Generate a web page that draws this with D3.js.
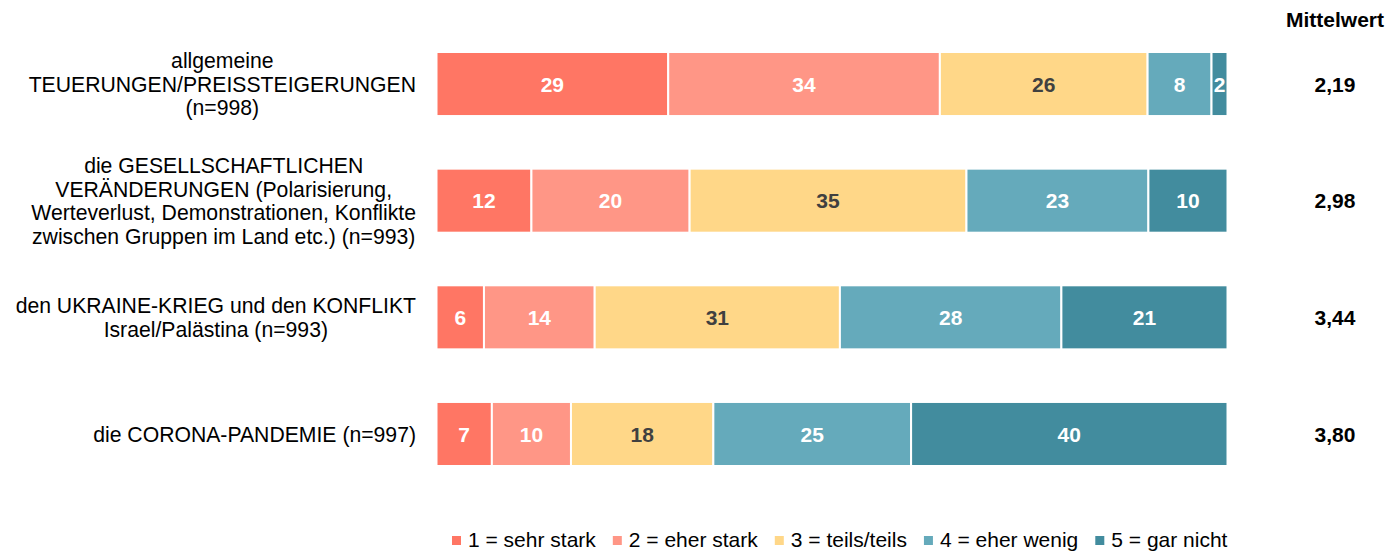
<!DOCTYPE html>
<html>
<head>
<meta charset="utf-8">
<script src="https://cdn.jsdelivr.net/npm/d3@7"></script>
<style>
	body { margin: 0; background: #ffffff; }
	svg { display: block; font-family: "Liberation Sans", Arial, sans-serif; }
</style>
</head>
<body>
<script>
var categories = [
	["allgemeine", "TEUERUNGEN/PREISSTEIGERUNGEN", "(n=998)"],
	["die GESELLSCHAFTLICHEN", "VERÄNDERUNGEN (Polarisierung,", "Werteverlust, Demonstrationen, Konflikte", "zwischen Gruppen im Land etc.) (n=993)"],
	["den UKRAINE-KRIEG und den KONFLIKT", "Israel/Palästina (n=993)"],
	["die CORONA-PANDEMIE (n=997)"]
];
var seriesNames = ["1 = sehr stark", "2 = eher stark", "3 = teils/teils", "4 = eher wenig", "5 = gar nicht"];
var sehrStark = [29, 12, 6, 7];
var eherStark = [34, 20, 14, 10];
var teilsTeils = [26, 35, 31, 18];
var eherWenig = [8, 23, 28, 25];
var garNicht = [2, 10, 21, 40];
var mittelwert = ["2,19", "2,98", "3,44", "3,80"];
var colors = ["#ff7664", "#ff9686", "#ffd788", "#65aabb", "#428c9e"];
var textColors = ["#ffffff", "#ffffff", "#404040", "#ffffff", "#ffffff"];

var width = 1392, height = 552;
var svg = d3.select("body")
	.append("svg")
	.attr("width", width)
	.attr("height", height);

var series = [sehrStark, eherStark, teilsTeils, eherWenig, garNicht];
var rows = categories.map(function (c, i) {
	return series.map(function (s) { return s[i]; });
});

var y = d3.scaleBand()
	.domain(d3.range(categories.length))
	.range([52, 466])
	.paddingInner(0.451)
	.paddingOuter(0);
var x = d3.scaleLinear()
	.domain([0, 1])
	.range([436.5, 1227.5]);

// bars, normalised to 100 %
rows.forEach(function (vals, i) {
	var total = d3.sum(vals);
	var acc = 0;
	var g = svg.append("g");
	vals.forEach(function (v, j) {
		var x0 = x(acc / total);
		acc += v;
		var x1 = x(acc / total);
		g.append("rect")
			.attr("x", x0)
			.attr("y", y(i))
			.attr("width", x1 - x0)
			.attr("height", y.bandwidth())
			.attr("fill", colors[j])
			.attr("stroke", "#ffffff")
			.attr("stroke-width", 2);
		g.append("text")
			.attr("x", (x0 + x1) / 2)
			.attr("y", y(i) + y.bandwidth() / 2)
			.attr("dy", "0.36em")
			.attr("text-anchor", "middle")
			.attr("font-size", 21)
			.attr("font-weight", "bold")
			.attr("fill", textColors[j])
			.text(v);
	});
});

// category labels: lines centred on each other, block right-aligned
var labelRight = 416;
var lineH = 23.5;
categories.forEach(function (lines, i) {
	var g = svg.append("g");
	var cy = y(i) + y.bandwidth() / 2;
	var texts = lines.map(function (l, k) {
		return g.append("text")
			.attr("y", cy + (k - (lines.length - 1) / 2) * lineH)
			.attr("dy", "0.36em")
			.attr("text-anchor", "middle")
			.attr("font-size", 21.2)
			.attr("fill", "#000000")
			.text(l);
	});
	var maxW = d3.max(texts, function (t) { return t.node().getComputedTextLength(); });
	texts.forEach(function (t) { t.attr("x", labelRight - maxW / 2); });
});

// Mittelwert column
var meanX = 1335;
svg.append("text")
	.attr("x", meanX)
	.attr("y", 27)
	.attr("text-anchor", "middle")
	.attr("font-size", 21)
	.attr("font-weight", "bold")
	.text("Mittelwert");
mittelwert.forEach(function (m, i) {
	svg.append("text")
		.attr("x", meanX)
		.attr("y", y(i) + y.bandwidth() / 2)
		.attr("dy", "0.36em")
		.attr("text-anchor", "middle")
		.attr("font-size", 21)
		.attr("font-weight", "bold")
		.text(m);
});

// legend
var legend = svg.append("g");
var lx = 452;
seriesNames.forEach(function (name, j) {
	legend.append("rect")
		.attr("x", lx)
		.attr("y", 536)
		.attr("width", 9)
		.attr("height", 9)
		.attr("fill", colors[j]);
	var t = legend.append("text")
		.attr("x", lx + 16)
		.attr("y", 547)
		.attr("font-size", 21)
		.attr("fill", "#000000")
		.text(name);
	lx += 16 + t.node().getComputedTextLength() + 17;
});
</script>
</body>
</html>
